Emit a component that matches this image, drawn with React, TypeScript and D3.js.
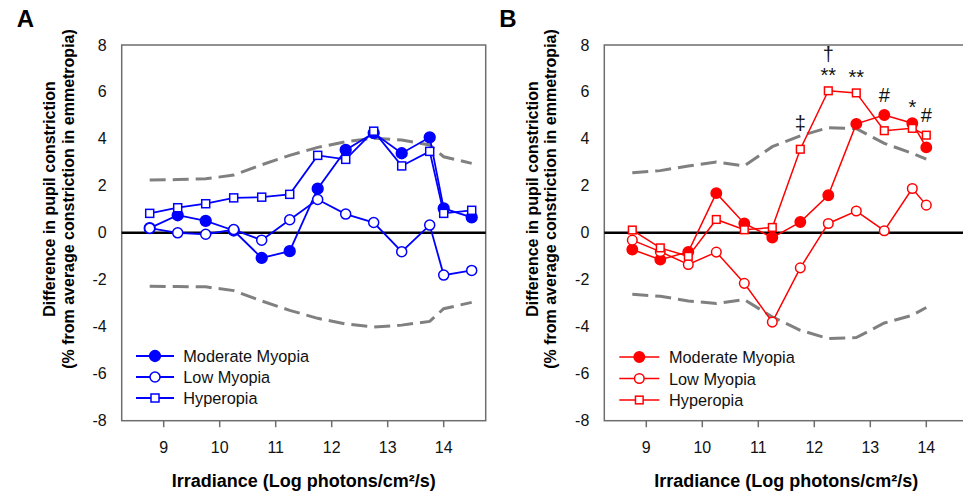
import * as d3 from "d3";
import React from "react";

// x positions (log photons/cm2/s)
const xA = [8.75, 9.25, 9.75, 10.25, 10.75, 11.25, 11.75, 12.25, 12.75, 13.25, 13.75, 14.0, 14.5];
const xB = [8.75, 9.25, 9.75, 10.25, 10.75, 11.25, 11.75, 12.25, 12.75, 13.25, 13.75, 14.0];

// panel A (blue)
const modA = [0.2, 0.75, 0.51, 0.1, -1.07, -0.78, 1.88, 3.53, 4.25, 3.39, 4.07, 1.04, 0.66];
const lowA = [0.2, 0.0, -0.06, 0.14, -0.31, 0.56, 1.42, 0.8, 0.44, -0.8, 0.33, -1.8, -1.6];
const hypA = [0.83, 1.07, 1.24, 1.49, 1.52, 1.64, 3.3, 3.13, 4.33, 2.85, 3.47, 0.83, 0.96];
const bandUpA = [2.25, 2.27, 2.3, 2.46, 2.9, 3.3, 3.64, 3.88, 4.03, 3.95, 3.74, 3.24, 2.96];
const bandLoA = [-2.27, -2.29, -2.3, -2.46, -2.9, -3.3, -3.64, -3.88, -4.01, -3.93, -3.77, -3.23, -2.96];

// panel B (red)
const modB = [-0.71, -1.14, -0.81, 1.69, 0.4, -0.2, 0.46, 1.6, 4.64, 5.02, 4.67, 3.64];
const lowB = [-0.31, -0.8, -1.35, -0.82, -2.15, -3.8, -1.49, 0.4, 0.93, 0.09, 1.89, 1.18];
const hypB = [0.12, -0.64, -1.0, 0.57, 0.13, 0.23, 3.56, 6.05, 5.96, 4.35, 4.45, 4.16];
const bandUpB = [2.56, 2.65, 2.85, 3.02, 2.85, 3.67, 4.13, 4.48, 4.44, 3.81, 3.39, 3.14];
const bandLoB = [-2.62, -2.7, -2.9, -3.01, -2.84, -3.58, -4.15, -4.5, -4.46, -3.84, -3.51, -3.18];

// significance marks over panel B (x, label, baseline value)
const annX = [11.75, 12.25, 12.25, 12.75, 13.25, 13.75, 14.0];
const annLabel = ["\u2021", "\u2020", "**", "**", "#", "*", "#"];
const annY = [4.38, 7.3, 6.42, 6.34, 5.57, 5.06, 4.74];

const seriesNames = ["Moderate Myopia", "Low Myopia", "Hyperopia"];
const yTicks = [-8, -6, -4, -2, 0, 2, 4, 6, 8];
const xTicks = [9, 10, 11, 12, 13, 14];

const FONT = "'Liberation Sans', Arial, Helvetica, sans-serif";

function Marker({ kind, x, y, color, r }) {
  if (kind === 2) {
    const s = r * 1.6;
    return <rect x={x - s / 2} y={y - s / 2} width={s} height={s} fill="#fff" stroke={color} strokeWidth={1.5} />;
  }
  return (
    <circle cx={x} cy={y} r={kind === 0 ? r + 0.4 : r} fill={kind === 0 ? color : "#fff"} stroke={color} strokeWidth={1.5} />
  );
}

function Panel(props) {
  const { left, label, color, xs, series, bandUp, bandLo, lineW, r, legend, ann } = props;
  const top = 45;
  const bottom = 420.7;
  const x = d3.scaleLinear().domain([8.25, 14.75]).range([left, left + 364]);
  const y = d3.scaleLinear().domain([-8, 8]).range([bottom, top]);

  const line = d3
    .line()
    .x((d) => x(d[0]))
    .y((d) => y(d[1]));

  const bandUpPath = line(xs.map((v, i) => [v, bandUp[i]]));
  const bandLoPath = line(xs.map((v, i) => [v, bandLo[i]]));

  return (
    <g>
      <text x={left - 105} y={27} fontSize={24} fontWeight="bold" fontFamily={FONT}>
        {label}
      </text>

      {/* frame */}
      <rect x={left} y={top} width={364} height={bottom - top} fill="none" stroke="#6e6e6e" strokeWidth={1.5} />

      {/* y tick labels */}
      {yTicks.map((t) => (
        <text key={t} x={left - 15} y={y(t)} textAnchor="end" dominantBaseline="central" fontSize={16} fontFamily={FONT} fill="#111">
          {t}
        </text>
      ))}

      {/* x ticks */}
      {xTicks.map((t) => (
        <g key={t}>
          <line x1={x(t)} x2={x(t)} y1={bottom} y2={bottom + 6.5} stroke="#6e6e6e" strokeWidth={1.5} />
          <text x={x(t)} y={452.5} textAnchor="middle" fontSize={16} fontFamily={FONT} fill="#111">
            {t}
          </text>
        </g>
      ))}

      {/* axis titles */}
      <text x={left + 182} y={486.7} textAnchor="middle" fontSize={18} fontWeight="bold" fontFamily={FONT}>
        Irradiance (Log photons/cm²/s)
      </text>
      <g transform={`translate(${left - 72},199) rotate(-90)`}>
        <text x={0} y={0} textAnchor="middle" dominantBaseline="central" fontSize={16} fontWeight="bold" fontFamily={FONT}>
          Difference in pupil constriction
        </text>
        <text x={0} y={18.5} textAnchor="middle" dominantBaseline="central" fontSize={16} fontWeight="bold" fontFamily={FONT}>
          (% from average constriction in emmetropia)
        </text>
      </g>

      {/* 95% bands */}
      <path d={bandUpPath} fill="none" stroke="#808080" strokeWidth={3} strokeDasharray="16,7" />
      <path d={bandLoPath} fill="none" stroke="#808080" strokeWidth={3} strokeDasharray="16,7" />

      {/* zero line */}
      <line x1={left} x2={left + 364} y1={y(0)} y2={y(0)} stroke="#000" strokeWidth={2.5} />

      {/* series */}
      {series.map((vals, k) => (
        <g key={k}>
          <path d={line(xs.map((v, i) => [v, vals[i]]))} fill="none" stroke={color} strokeWidth={lineW} />
          {xs.map((v, i) => (
            <Marker key={i} kind={k} x={x(v)} y={y(vals[i])} color={color} r={r} />
          ))}
        </g>
      ))}

      {/* annotations */}
      {ann &&
        annX.map((v, i) => (
          <text key={i} x={x(v)} y={y(annY[i])} textAnchor="middle" fontSize={20} fontFamily={FONT} fill="#111">
            {annLabel[i]}
          </text>
        ))}

      {/* legend */}
      {seriesNames.map((name, k) => (
        <g key={name}>
          <line x1={left + legend.x0} x2={left + legend.x1} y1={legend.rows[k]} y2={legend.rows[k]} stroke={color} strokeWidth={lineW} />
          <Marker kind={k} x={left + (legend.x0 + legend.x1) / 2} y={legend.rows[k]} color={color} r={r} />
          <text x={left + legend.tx} y={legend.rows[k]} dominantBaseline="central" fontSize={16.3} fontFamily={FONT} fill="#111">
            {name}
          </text>
        </g>
      ))}
    </g>
  );
}

export default function App() {
  return (
    <svg width={963} height={494} style={{ position: "absolute", left: 0, top: 0, background: "#fff" }}>
      <rect width={963} height={494} fill="#fff" />
      <Panel
        left={121.7}
        label="A"
        color="#0000ff"
        xs={xA}
        series={[modA, lowA, hypA]}
        bandUp={bandUpA}
        bandLo={bandLoA}
        lineW={1.8}
        r={5}
        legend={{ x0: 14.3, x1: 52.3, tx: 61.6, rows: [356, 377, 398] }}
        ann={false}
      />
      <Panel
        left={604.3}
        label="B"
        color="#ff0000"
        xs={xB}
        series={[modB, lowB, hypB]}
        bandUp={bandUpB}
        bandLo={bandLoB}
        lineW={1.5}
        r={4.8}
        legend={{ x0: 15, x1: 55, tx: 64.7, rows: [357, 378.5, 400] }}
        ann={true}
      />
    </svg>
  );
}
